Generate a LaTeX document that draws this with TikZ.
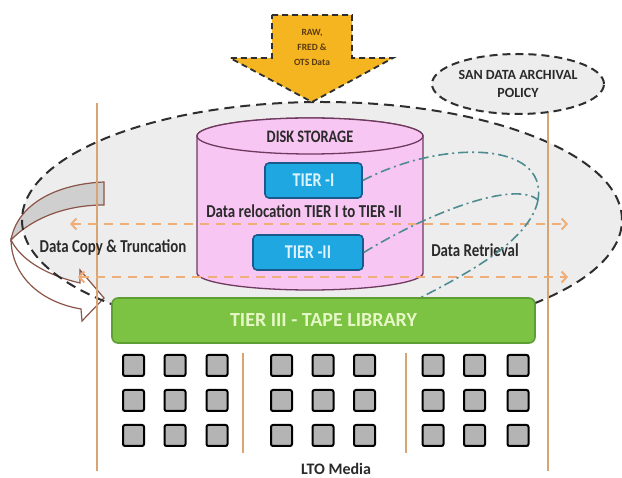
\documentclass[tikz,border=0pt]{standalone}
\usepackage{fontspec}
\setmainfont{Carlito}
\newfontfamily\condfont{Carlito}[FakeStretch=0.82]
\usetikzlibrary{shapes.geometric,arrows.meta}
\definecolor{zonegray}{HTML}{EDEDED}
\definecolor{dashdark}{HTML}{2E2E2E}
\definecolor{arrowyellow}{HTML}{F5B520}
\definecolor{arrowtext}{HTML}{5A3A10}
\definecolor{vline}{HTML}{D9A473}
\definecolor{orangedash}{HTML}{EFAE78}
\definecolor{cylfill}{HTML}{F8C6F3}
\definecolor{cylborder}{HTML}{6E3A5E}
\definecolor{tierfill}{HTML}{1EA7E0}
\definecolor{tierborder}{HTML}{1A5A8A}
\definecolor{tiertext}{HTML}{DDF3FF}
\definecolor{libfill}{HTML}{7CC243}
\definecolor{libborder}{HTML}{5E9E34}
\definecolor{libtext}{HTML}{E6F7C6}
\definecolor{sqfill}{HTML}{B4B4B4}
\definecolor{teal}{HTML}{4E8C92}
\definecolor{curlborder}{HTML}{8A5548}
\definecolor{curlgray}{HTML}{CFCFCF}
\definecolor{txt}{HTML}{2A2A2A}
\tikzset{
  bigdash/.style={draw=dashdark, line width=2pt, dash pattern=on 10pt off 6pt},
  vstroke/.style={draw=vline, line width=1.6pt},
  odash/.style={draw=orangedash, line width=2pt, dash pattern=on 9pt off 7pt, {Straight Barb[length=5pt,width=11pt]}-{Straight Barb[length=5pt,width=11pt]}},
  cyl/.style={draw=cylborder, line width=1.3pt, fill=cylfill},
  tierbox/.style={draw=tierborder, line width=1.6pt, fill=tierfill, rounded corners=4pt, text=tiertext, font=\condfont\bfseries\fontsize{19.5}{21}\selectfont, minimum height=35pt, inner sep=0pt},
  tealcurve/.style={draw=teal, line width=1.6pt, dash pattern=on 10pt off 4pt on 2pt off 4pt},
  sq/.style={draw=black, line width=2pt, fill=sqfill, rounded corners=2pt, minimum width=21pt, minimum height=21pt, inner sep=0pt},
  lbl/.style={text=txt, font=\condfont\bfseries\fontsize{18.2}{20}\selectfont, inner sep=0pt},
}
\begin{document}
\begin{tikzpicture}[x=1pt,y=-1pt]
\useasboundingbox (0,0) rectangle (622,478);
\fill[white] (0,0) rectangle (622,478);
% zone ellipse fill
\fill[zonegray] (322,220) ellipse[x radius=300pt, y radius=118pt];
% curled arrow
\draw[curlborder, line width=1.2pt, fill=curlgray] (104,182) .. controls (55,184) and (17,205) .. (11,240) .. controls (28,222) and (60,205) .. (104,205) -- cycle;
\draw[curlborder, line width=1.2pt, fill=white] (11,240) .. controls (12,276) and (40,302) .. (81,309) -- (82,321) -- (104,298) -- (80,270) -- (80,283) .. controls (50,276) and (22,262) .. (11,240) -- cycle;
% zone ellipse outline
\node[ellipse, bigdash, minimum width=600pt, minimum height=236pt, inner sep=0pt] (zone) at (322,220) {};
% policy ellipse
\node[ellipse, draw=dashdark, line width=2pt, dash pattern=on 8pt off 5pt, fill=zonegray, minimum width=172pt, minimum height=60pt, align=center, text=txt, font=\bfseries\fontsize{14}{18}\selectfont, inner sep=0pt] (policy) at (518,84) {SAN DATA ARCHIVAL\\POLICY};
% yellow input arrow
\draw[draw=dashdark, line width=1.8pt, dash pattern=on 6pt off 4pt, fill=arrowyellow] (272,15) -- (352,15) -- (352,58) -- (393,58) -- (312,102) -- (230,58) -- (272,58) -- cycle;
\node[align=center, text=arrowtext, font=\bfseries\fontsize{9.5}{15}\selectfont, inner sep=0pt] (feed) at (312,47) {RAW,\\FRED \&\\OTS Data};
% vertical lines
\coordinate (vlt) at (97,103);
\coordinate (vlb) at (97,471);
\coordinate (vrt) at (548,113);
\coordinate (vrb) at (548,471);
\draw[vstroke] (vlt) -- (vlb);
\draw[vstroke] (vrt) -- (vrb);
% cylinder
\draw[cyl] (197,136) -- (197,273) arc[start angle=180, end angle=360, x radius=113pt, y radius=17pt] -- (423,136) arc[start angle=0, end angle=180, x radius=113pt, y radius=18pt] -- cycle;
\draw[cyl] (310,136) ellipse[x radius=113pt, y radius=18pt];
\node[text=txt, font=\condfont\bfseries\fontsize{17.5}{19}\selectfont, inner sep=0pt] (disk) at (310,137) {DISK STORAGE};
% orange dashed arrows
\coordinate (la1) at (70,224);
\coordinate (ra1) at (568,224);
\coordinate (la2) at (78,277);
\coordinate (ra2) at (568,277);
\draw[odash] (la1) -- (ra1);
\draw[odash] (la2) -- (ra2);
% tiers
\node[tierbox, minimum width=97pt] (t1) at (313.5,180.5) {TIER -I};
\node[tierbox, minimum width=110pt] (t2) at (308,252.5) {TIER -II};
\node[lbl] (reloc) at (304,211) {Data relocation TIER I to TIER -II};
\node[lbl] (copy) at (113,248) {Data Copy \& Truncation};
\node[lbl] (retr) at (475,250) {Data Retrieval};
% teal curves
\coordinate (tm) at (538,200);
\coordinate (tcend) at (420,298);
\draw[tealcurve] (t1.east) .. controls (440,140) and (548,140) .. (tm);
\draw[tealcurve] (t2.east) .. controls (430,212) and (515,180) .. (tm);
\draw[tealcurve] (tm) .. controls (530,240) and (470,272) .. (tcend);
% tape library
\node[draw=libborder, line width=1.6pt, fill=libfill, rounded corners=6pt, minimum width=423pt, minimum height=45pt, text=libtext, font=\bfseries\fontsize{20}{22}\selectfont, inner sep=0pt] (lib) at (323.5,320.5) {TIER III - TAPE LIBRARY};
% squares
\foreach \x [count=\i] in {133.5,175,217,281.5,323,364.5,433,474.5,518}{
  \foreach \y [count=\j] in {365.5,400.5,435.5}{
    \node[sq] (sq-\i-\j) at (\x,\y) {};
  }
}
\coordinate (s1t) at (243,353);
\coordinate (s1b) at (243,453);
\coordinate (s2t) at (406,353);
\coordinate (s2b) at (406,453);
\draw[vstroke] (s1t) -- (s1b);
\draw[vstroke] (s2t) -- (s2b);
\node[text=txt, font=\bfseries\fontsize{16}{17}\selectfont, inner sep=0pt] (lto) at (336,468.5) {LTO Media};
\end{tikzpicture}
\end{document}
